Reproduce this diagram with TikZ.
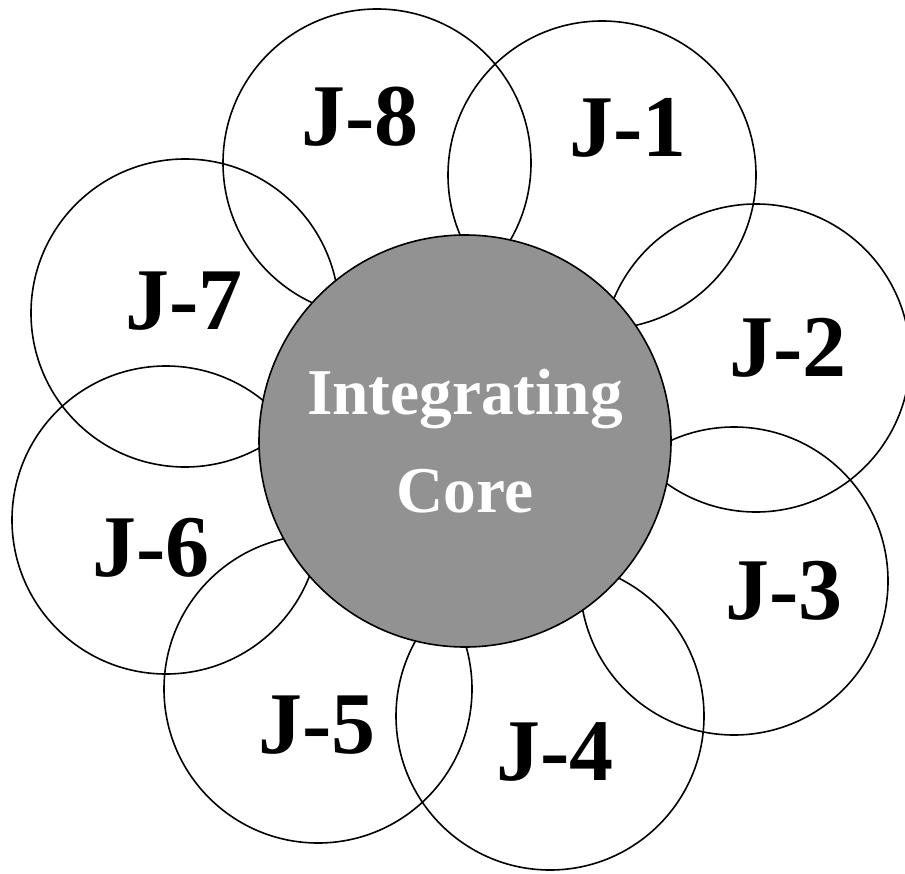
\documentclass[tikz,border=0pt]{standalone}
\usepackage{fontspec}
\setmainfont{Liberation Serif}
\definecolor{coregray}{RGB}{146,146,146}

\begin{document}
\begin{tikzpicture}[
  x=0.75pt, y=-0.75pt,
  petal/.style={draw, circle, line width=1.2pt, minimum size=231pt, inner sep=0pt},
  core/.style={draw, circle, line width=1.2pt, fill=coregray, minimum size=309pt, inner sep=0pt,
    text=white, align=center, font=\fontsize{49}{73.5}\selectfont\bfseries},
  tag/.style={font=\fontsize{66}{66}\selectfont\bfseries}
]
\useasboundingbox (0,0) rectangle (905,873);
\node[petal] (p1) at (602,175) {};
\node[petal] (p2) at (756,358) {};
\node[petal] (p3) at (734,581) {};
\node[petal] (p4) at (550,716) {};
\node[petal] (p5) at (318,689) {};
\node[petal] (p6) at (166,520) {};
\node[petal] (p7) at (185,313) {};
\node[petal] (p8) at (377,163) {};
\node[core] (core) at (465,441) {Integrating\\Core};
\node[tag] (t1) at (628,128) {J-1};
\node[tag] (t2) at (788,348) {J-2};
\node[tag] (t3) at (784,591) {J-3};
\node[tag] (t4) at (555,752) {J-4};
\node[tag] (t5) at (317,725) {J-5};
\node[tag] (t6) at (151,548) {J-6};
\node[tag] (t7) at (184,301) {J-7};
\node[tag] (t8) at (360,117) {J-8};
\end{tikzpicture}
\end{document}
